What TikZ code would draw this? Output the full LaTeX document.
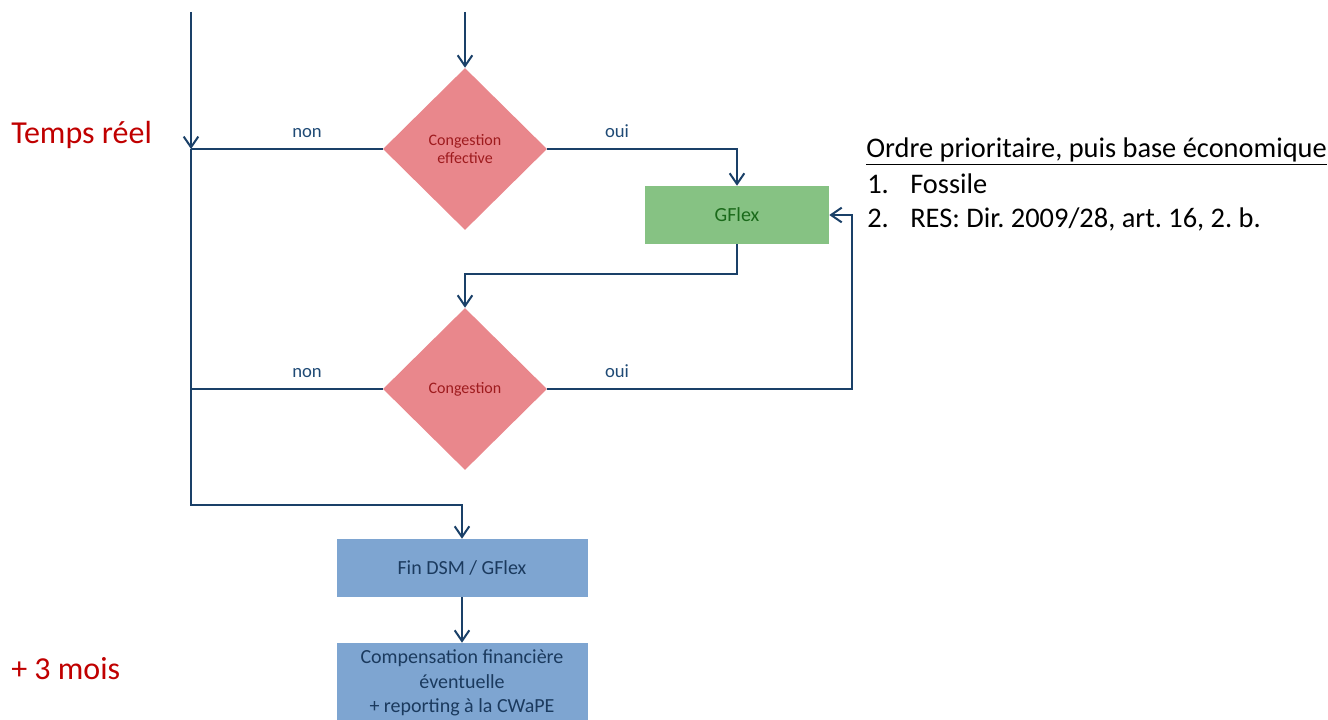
\documentclass[tikz,border=0pt]{standalone}
\usepackage{fontspec}
\setmainfont{Carlito}
\frenchspacing
\usetikzlibrary{shapes.geometric,arrows.meta}
\definecolor{flow}{HTML}{1A4068}
\definecolor{labcol}{HTML}{1F4A75}
\definecolor{diafill}{HTML}{E9878C}
\definecolor{diatext}{HTML}{9E1B1E}
\definecolor{gfill}{HTML}{86C283}
\definecolor{gtext}{HTML}{1A6A1A}
\definecolor{bfill}{HTML}{7EA5D1}
\definecolor{btext}{HTML}{1B3A5E}
\definecolor{timered}{HTML}{C00000}
\begin{document}
\begin{tikzpicture}[x=0.75pt,y=-0.75pt,
  conn/.style={draw=flow,line width=1.5pt},
  arr/.style={conn,-{Straight Barb[length=8pt,width=11pt,line width=1.5pt]}},
  dia/.style={diamond,fill=diafill,inner sep=0pt,minimum width=123pt,minimum height=121.5pt,
    text=diatext,align=center,font=\fontsize{12}{13.5}\selectfont},
  gbox/.style={rectangle,fill=gfill,inner sep=0pt,minimum width=138pt,minimum height=43.5pt,
    text=gtext,font=\fontsize{15}{18}\selectfont},
  bbox/.style={rectangle,fill=bfill,inner sep=0pt,minimum width=188.25pt,minimum height=43.5pt,
    text=btext,align=center,font=\fontsize{15}{18.5}\selectfont},
  lab/.style={text=labcol,anchor=base,inner sep=0pt,font=\fontsize{14}{16}\selectfont},
  phase/.style={text=timered,anchor=base west,inner sep=0pt,font=\fontsize{24}{28}\selectfont},
  note/.style={text=black,anchor=base west,inner sep=0pt,font=\fontsize{21.3}{25}\selectfont}]
\clip (0,0) rectangle (1328,720);

% decisions and actions
\node[dia] (d1) at (465,149) {Congestion\\effective};
\node[dia] (d2) at (465,389) {Congestion};
\node[gbox] (gflex) at (737,215) {GFlex};
\node[bbox] (fin) at (462,568) {Fin DSM / GFlex};
\node[bbox,minimum height=60pt] (comp) at (462,683) {Compensation financière\\éventuelle\\+ reporting à la CWaPE};

% routing points
\coordinate (ltop) at (191,12);
\coordinate (ttop) at (465,12);
\coordinate (j1) at (ltop |- d1.west);
\coordinate (j2) at (ltop |- d2.west);
\coordinate (c5) at (191,505);
\coordinate (k1) at (737,274);
\coordinate (k2) at (852,389);

% connectors
\draw[arr] (ttop) -- (d1.north);
\draw[arr] (ltop) -- (j1);
\draw[conn] (d1.west) -- (j1);
\draw[conn] (d2.west) -- (j2);
\draw[arr] (j1) -- (c5) -| (fin.north);
\draw[arr] (d1.east) -| (gflex.north);
\draw[arr] (gflex.south) -- (k1) -| (d2.north);
\draw[arr] (d2.east) -- (k2) |- (gflex.east);
\draw[arr] (fin.south) -- (comp.north);

% branch labels
\node[lab] (n1) at (307,138) {non};
\node[lab] (o1) at (617,138) {oui};
\node[lab] (n2) at (307,378) {non};
\node[lab] (o2) at (617,378) {oui};

% time phases
\node[phase] (t1) at (11,144) {Temps réel};
\node[phase] (t2) at (11,679) {+ 3 mois};

% priority note
\node[note] (h) at (866,158) {\underline{Ordre prioritaire, puis base économique}};
\node[note] (i1) at (867,194) {1.};
\node[note] (f1) at (910,194) {Fossile};
\node[note] (i2) at (867,228) {2.};
\node[note] (f2) at (910,228) {RES: Dir. 2009/28, art. 16, 2. b.};
\end{tikzpicture}
\end{document}
